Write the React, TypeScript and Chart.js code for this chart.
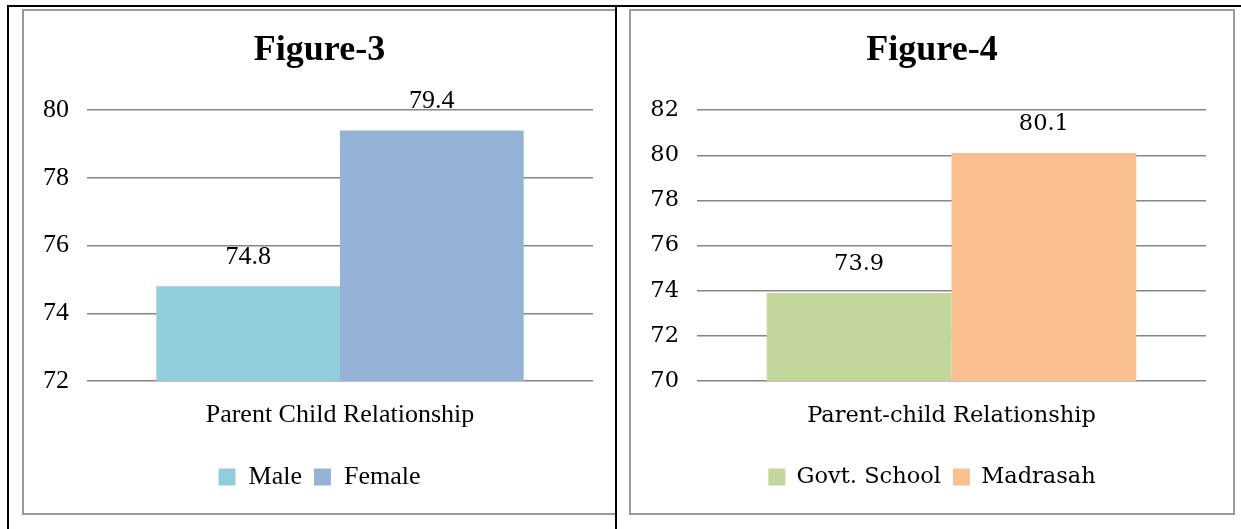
import React, { useEffect, useRef } from 'react';
import { Chart, registerables } from 'chart.js';

Chart.register(...registerables);

// ---- Figure-3 data ----
const fig3Title = 'Figure-3';
const fig3Categories = ['Parent Child Relationship'];
const fig3SeriesNames = ['Male', 'Female'];
const fig3Male = [74.8];
const fig3Female = [79.4];
const fig3Ticks = [72, 74, 76, 78, 80];
const fig3Colors = ['#92CDDC', '#95B3D7'];

// ---- Figure-4 data ----
const fig4Title = 'Figure-4';
const fig4Categories = ['Parent-child Relationship'];
const fig4SeriesNames = ['Govt. School', 'Madrasah'];
const fig4Govt = [73.9];
const fig4Madrasah = [80.1];
const fig4Ticks = [70, 72, 74, 76, 78, 80, 82];
const fig4Colors = ['#C3D69B', '#FAC090'];

const valueLabelPlugin = {
  id: 'valueLabels',
  afterDatasetsDraw(chart: any, _args: any, opts: any) {
    const ctx = chart.ctx;
    ctx.save();
    ctx.font = opts.font;
    ctx.fillStyle = opts.color;
    ctx.textAlign = 'center';
    ctx.textBaseline = 'middle';
    chart.data.datasets.forEach((ds: any, i: number) => {
      const meta = chart.getDatasetMeta(i);
      meta.data.forEach((el: any, j: number) => {
        ctx.fillText(String(ds.data[j]), el.x, el.y - opts.offset);
      });
    });
    ctx.restore();
  },
};

type PanelProps = {
  width: number;
  height: number;
  title: string;
  categories: string[];
  names: string[];
  values: number[][];
  colors: string[];
  ticks: number[];
  family: string;
  fontSize: number;
  leftWidth: number;
  rightWidth: number;
  xPad: number;
};

const PLOT_BOTTOM = 368;
const LEGEND_CENTER = 464;
const LEGEND_PAD = 12;

function BarPanel(p: PanelProps) {
  const ref = useRef<HTMLCanvasElement | null>(null);
  useEffect(() => {
    if (!ref.current) return;
    const step = p.ticks[1] - p.ticks[0];
    const fs = p.fontSize;
    const legendTop = LEGEND_CENTER - LEGEND_PAD - fs / 2;
    const legendBottom = legendTop + 2 * LEGEND_PAD + fs;
    const bottomPad = p.height - legendBottom;
    const xHeight = legendTop - PLOT_BOTTOM;
    const chart = new Chart(ref.current, {
      type: 'bar',
      data: {
        labels: p.categories,
        datasets: p.names.map((n, i) => ({
          label: n,
          data: p.values[i],
          backgroundColor: p.colors[i],
          borderWidth: 0,
          categoryPercentage: 0.726,
          barPercentage: 1,
        })),
      },
      options: {
        responsive: false,
        animation: false,
        events: [],
        layout: { padding: { top: 18, left: 0, right: 0, bottom: bottomPad } },
        scales: {
          x: {
            grid: { display: false, drawTicks: false },
            border: { display: false },
            ticks: { color: '#000', padding: p.xPad, font: { family: p.family, size: fs } },
            afterFit: (a: any) => { a.height = xHeight; },
          },
          y: {
            min: p.ticks[0],
            max: p.ticks[p.ticks.length - 1],
            grid: { color: '#868686', lineWidth: 1.6, drawTicks: false },
            border: { display: false },
            ticks: { stepSize: step, color: '#000', padding: 18, font: { family: p.family, size: fs } },
            afterFit: (a: any) => { a.width = p.leftWidth; },
          },
          yr: {
            position: 'right',
            grid: { display: false, drawTicks: false },
            border: { display: false },
            ticks: { display: false },
            afterFit: (a: any) => { a.width = p.rightWidth; },
          },
        },
        plugins: {
          title: {
            display: true,
            text: p.title,
            color: '#000',
            font: { family: 'Liberation Serif', size: 36, weight: 'bold' },
            padding: { top: 0, bottom: 38 },
          },
          legend: {
            position: 'bottom',
            labels: {
              color: '#000',
              boxWidth: 17,
              boxHeight: 17,
              padding: LEGEND_PAD,
              font: { family: p.family, size: fs },
            },
          },
          tooltip: { enabled: false },
          valueLabels: { font: `${fs}px "${p.family}"`, color: '#000', offset: 29 },
        } as any,
      },
      plugins: [valueLabelPlugin],
    } as any);
    return () => chart.destroy();
  }, []);
  return <canvas ref={ref} width={p.width} height={p.height} style={{ width: p.width, height: p.height, display: 'block' }} />;
}

export default function App() {
  return (
    <div style={{ position: 'absolute', left: 0, top: 0, width: 1241, height: 529, background: '#fff', overflow: 'hidden' }}>
      {/* grey frame, figure 3 */}
      <div style={{ position: 'absolute', left: 22, top: 9, width: 593, height: 506, boxSizing: 'border-box', borderLeft: '2px solid #9a9a9a', borderTop: '2px solid #9a9a9a', borderBottom: '2px solid #9a9a9a' }} />
      {/* grey frame, figure 4 */}
      <div style={{ position: 'absolute', left: 629, top: 9, width: 606, height: 506, boxSizing: 'border-box', border: '2px solid #9a9a9a' }} />
      <div style={{ position: 'absolute', left: 24, top: 11 }}>
        <BarPanel width={591} height={502} title={fig3Title} categories={fig3Categories} names={fig3SeriesNames}
          values={[fig3Male, fig3Female]} colors={fig3Colors} ticks={fig3Ticks} family="Liberation Serif" fontSize={26}
          leftWidth={63} rightWidth={22} xPad={19} />
      </div>
      <div style={{ position: 'absolute', left: 631, top: 11 }}>
        <BarPanel width={602} height={502} title={fig4Title} categories={fig4Categories} names={fig4SeriesNames}
          values={[fig4Govt, fig4Madrasah]} colors={fig4Colors} ticks={fig4Ticks} family="DejaVu Serif" fontSize={22.5}
          leftWidth={66} rightWidth={27} xPad={22} />
      </div>
      {/* black table lines */}
      <div style={{ position: 'absolute', left: 7, top: 5, width: 1234, height: 2, background: '#000' }} />
      <div style={{ position: 'absolute', left: 7, top: 5, width: 2, height: 524, background: '#000' }} />
      <div style={{ position: 'absolute', left: 615, top: 5, width: 2, height: 524, background: '#000' }} />
    </div>
  );
}
